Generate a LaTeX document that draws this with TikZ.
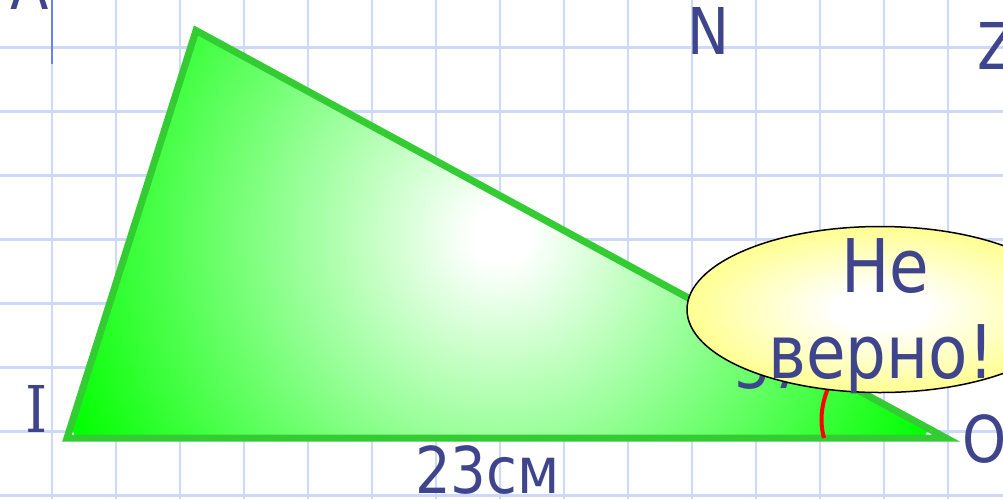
\documentclass[tikz,border=0pt]{standalone}
\usepackage{fontspec}
\setmainfont{DejaVu Sans}
\newfontfamily\serifI{DejaVu Serif}
\usetikzlibrary{shapes.geometric}
\definecolor{gridblue}{RGB}{206,216,248}
\definecolor{cursorblue}{RGB}{110,130,235}
\definecolor{txt}{RGB}{63,69,140}
\definecolor{tristroke}{RGB}{51,204,51}
\definecolor{puregreen}{RGB}{0,255,0}
\definecolor{lightyellow}{RGB}{255,255,145}
\pgfdeclareradialshading{trishade}{\pgfpointorigin}{color(0bp)=(white); color(1.5bp)=(white); color(25bp)=(puregreen); color(50bp)=(puregreen)}
\pgfdeclareradialshading{ellshade}{\pgfpointorigin}{color(0bp)=(white); color(6bp)=(white); color(25bp)=(lightyellow); color(50bp)=(lightyellow)}
\newcommand{\sq}[1]{\scalebox{0.87}[1]{#1}}
\tikzset{
  gridline/.style={draw=gridblue, line width=2.2},
  lbl/.style={text=txt, inner sep=0, font=\fontsize{64.5}{70}\selectfont},
  bigtxt/.style={text=txt, inner sep=0, font=\fontsize{74}{80}\selectfont},
}
\begin{document}
\begin{tikzpicture}[x=1pt, y=-1pt]
\useasboundingbox (0,0) rectangle (1003,499);
\fill[white] (0,0) rectangle (1003,499);
% grid
\foreach \x in {52,116,...,1012} \draw[gridline] (\x,0) -- (\x,499);
\foreach \y in {47.5,111.5,...,495.5} \draw[gridline] (0,\y) -- (1003,\y);
% cursor line
\draw[cursorblue, line width=2] (52,0) -- (52,64);
% triangle
\coordinate (T) at (196,30.5);
\coordinate (I) at (67,438);
\coordinate (O) at (946,438);
\begin{scope}
  \clip (T) -- (I) -- (O) -- cycle;
  \shade[shading=trishade] (500,235) circle (470);
\end{scope}
\draw[tristroke, line width=7, line join=miter] (T) -- (I) -- (O) -- cycle;
% angle mark
\draw[red, line width=4] (824,438) .. controls (819,420) and (821,400) .. (834,375);
% hidden angle label
\node[lbl, anchor=base west] (ang) at (734.5,388) {\sq{37°}};
% bubble
\node[draw=black, line width=1.5, ellipse, minimum width=386, minimum height=166, inner sep=0, shading=ellshade] (bubble) at (880,309.5) {};
\node[bigtxt, anchor=base] (ne) at (885,292) {\sq{Не}};
\node[bigtxt, anchor=base] (verno) at (881,378) {\sq{верно!}};
% labels
\node[lbl, anchor=base west] (lA) at (10,9) {\sq{A}};
\node[lbl, anchor=base west] (lN) at (687.5,54) {\sq{N}};
\node[lbl, anchor=base west] (lZ) at (977.5,69) {\sq{Z}};
\node[lbl, anchor=base] (lI) at (37,432) {\sq{\serifI I}};
\node[lbl, anchor=base west] (lO) at (962,462) {\sq{O}};
\node[lbl, anchor=base] (len) at (487.5,493) {\sq{23см}};
\end{tikzpicture}
\end{document}
